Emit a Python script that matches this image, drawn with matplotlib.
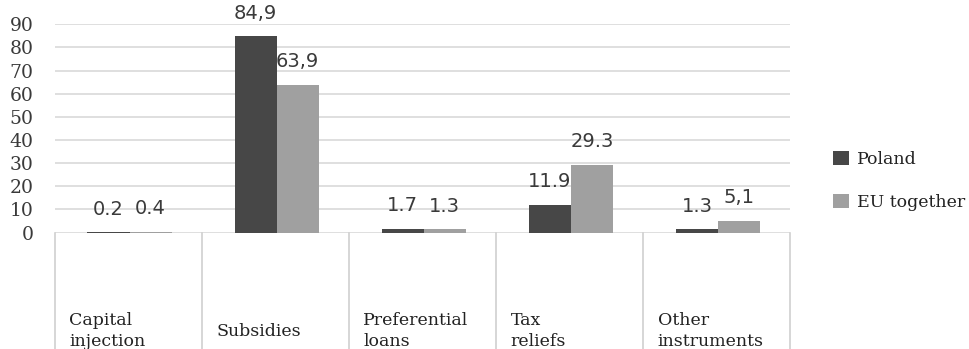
import matplotlib
matplotlib.use("Agg")
import matplotlib.pyplot as plt
import matplotlib.transforms as mtransforms
from matplotlib.patches import Patch
import numpy as np

categories = ["Capital\ninjection", "Subsidies", "Preferential\nloans", "Tax\nreliefs", "Other\ninstruments"]
poland = [0.2, 84.9, 1.7, 11.9, 1.3]
eu_together = [0.4, 63.9, 1.3, 29.3, 5.1]
poland_labels = ["0.2", "84,9", "1.7", "11.9", "1.3"]
eu_labels = ["0.4", "63,9", "1.3", "29.3", "5,1"]
series_names = ["Poland", "EU together"]
y_ticks = [0, 10, 20, 30, 40, 50, 60, 70, 80, 90]

W, H = 969, 349
fig = plt.figure(figsize=(W / 100, H / 100), dpi=100)
ax = fig.add_axes([54.5 / W, (H - 232.5) / H, (790 - 54.5) / W, (232.5 - 24.3) / H])

c_pl = "#474747"
c_eu = "#a0a0a0"
grid_c = "#d9d9d9"
text_c = "#3a3a3a"

x = np.arange(len(categories))
w = 0.286
b1 = ax.bar(x - w / 2 + 0.01, poland, w, color=c_pl, zorder=3)
b2 = ax.bar(x + w / 2 + 0.01, eu_together, w, color=c_eu, zorder=3)

for bars, labels in ((b1, poland_labels), (b2, eu_labels)):
    for rect, lab in zip(bars, labels):
        ax.annotate(lab, (rect.get_x() + rect.get_width() / 2, rect.get_height()),
                    xytext=(0, 23), textcoords="offset pixels",
                    ha="center", va="center", fontsize=14,
                    family="DejaVu Sans", color=text_c, zorder=4)

ax.set_xlim(-0.5, len(categories) - 0.5)
ax.set_ylim(0, 90)
ax.set_yticks(y_ticks)
ax.set_yticklabels([str(t) for t in y_ticks], family="DejaVu Serif", fontsize=13.5, color=text_c)
ax.tick_params(axis="y", length=0, pad=15)
ax.set_xticks([])
ax.yaxis.grid(True, color=grid_c, linewidth=1.2, zorder=0)
ax.set_axisbelow(True)
for s in ax.spines.values():
    s.set_visible(False)

# category table below the plot: vertical separators and left-aligned labels
trans = mtransforms.blended_transform_factory(ax.transData, ax.transAxes)
for xv in np.arange(-0.5, len(categories), 1.0):
    ax.plot([xv, xv], [0, -0.7], transform=trans, color="#d0d0d0",
            linewidth=1.2, clip_on=False)

trans_fig = mtransforms.blended_transform_factory(ax.transData, fig.transFigure)
for i, cat in enumerate(categories):
    ax.text(i - 0.5 + 0.1, 1 - 331 / H, cat, transform=trans_fig,
            ha="left", va="center", fontsize=12.5, family="DejaVu Serif",
            color="#222222", linespacing=1.25, clip_on=False)

handles = [Patch(facecolor=c_pl, edgecolor="none"), Patch(facecolor=c_eu, edgecolor="none")]
fig.legend(handles, series_names, loc="center left",
           bbox_to_anchor=(833 / W, 1 - 181 / H), frameon=False,
           borderpad=0, borderaxespad=0, handlelength=0.9, handleheight=0.9,
           handletextpad=0.5, labelspacing=1.5,
           prop={"family": "DejaVu Serif", "size": 12.5})
for t in fig.legends[0].get_texts():
    t.set_color("#222222")

fig.savefig("out.png", dpi=100)
